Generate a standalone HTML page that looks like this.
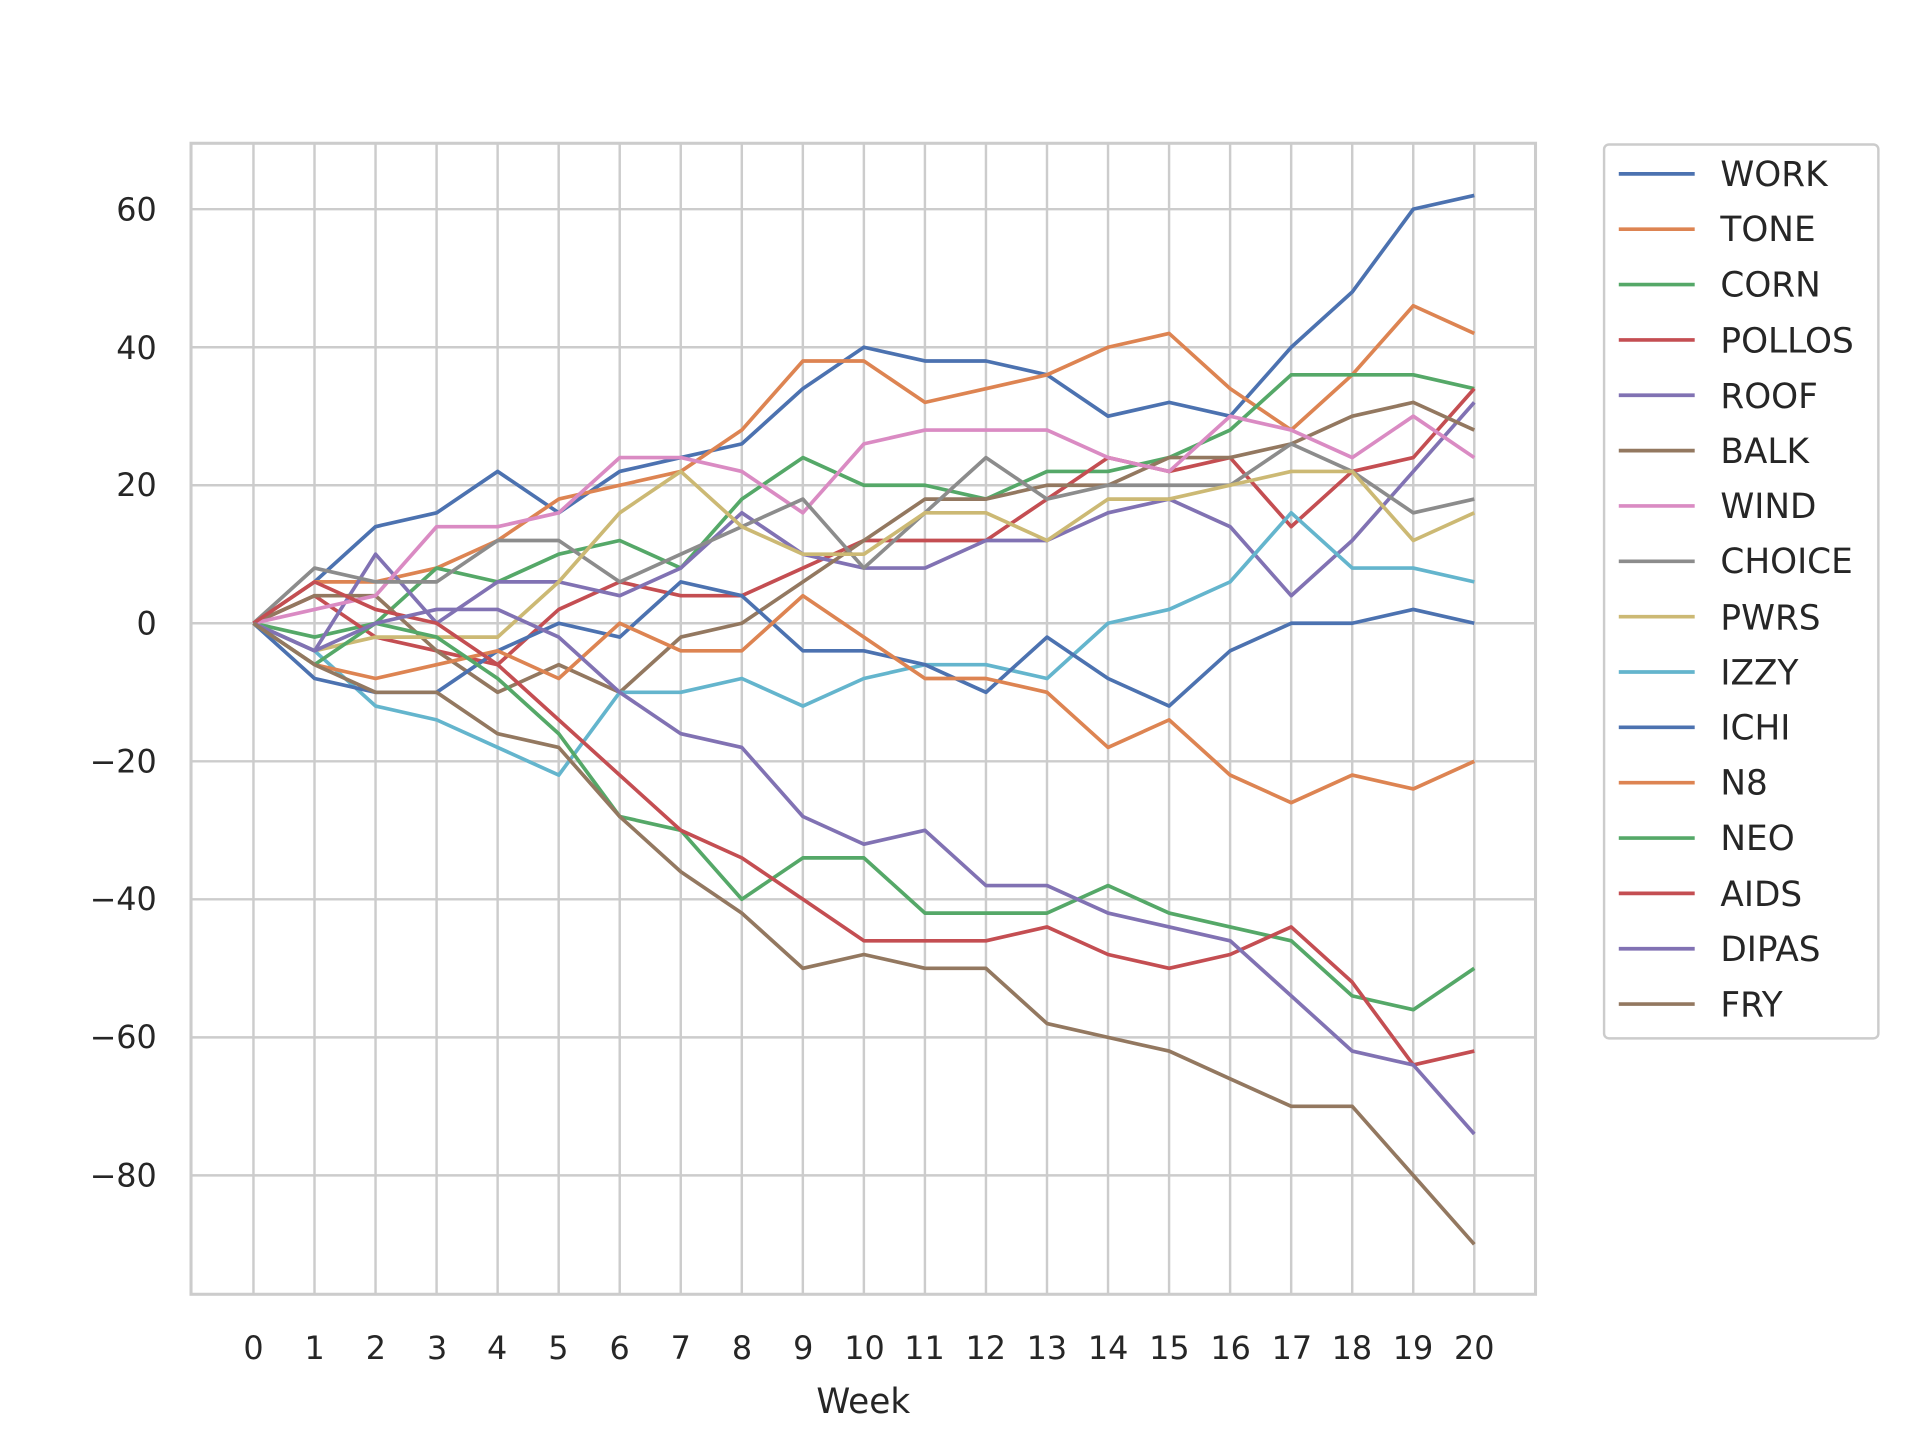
<!DOCTYPE html>
<html><head><meta charset="utf-8"><style>
html,body{margin:0;padding:0;background:#fff;}
svg{display:block}
text{font-family:"DejaVu Sans","Liberation Sans",sans-serif;fill:#262626}
</style></head><body>
<svg id="s" width="1920" height="1440" viewBox="0 0 1568 1176" xmlns="http://www.w3.org/2000/svg">
<rect x="156" y="117" width="1098" height="940" fill="#fff" stroke="#cccccc" stroke-width="2.5"/>
<g id="grid" stroke="#cccccc" stroke-width="2"></g>
<g id="lines" fill="none" stroke-width="3" stroke-linejoin="round"></g>
<g font-size="26" text-anchor="end">
<text x="128" y="180">60</text>
<text x="128" y="293">40</text>
<text x="128" y="405">20</text>
<text x="128" y="518">0</text>
<text x="128" y="631">−20</text>
<text x="128" y="743">−40</text>
<text x="128" y="856">−60</text>
<text x="128" y="969">−80</text>
</g>
<g font-size="26" text-anchor="middle">
<text x="207" y="1110">0</text><text x="257" y="1110">1</text><text x="307" y="1110">2</text><text x="357" y="1110">3</text><text x="406" y="1110">4</text><text x="456" y="1110">5</text><text x="506" y="1110">6</text><text x="556" y="1110">7</text><text x="606" y="1110">8</text><text x="656" y="1110">9</text><text x="706" y="1110">10</text><text x="755" y="1110">11</text><text x="805" y="1110">12</text><text x="855" y="1110">13</text><text x="905" y="1110">14</text><text x="955" y="1110">15</text><text x="1005" y="1110">16</text><text x="1055" y="1110">17</text><text x="1104" y="1110">18</text><text x="1154" y="1110">19</text><text x="1204" y="1110">20</text>
<text x="705" y="1154" font-size="28">Week</text>
</g>
<rect x="1310" y="118" width="224" height="730" rx="4" fill="#fff" stroke="#cccccc" stroke-width="2"/>
<g id="leg" font-size="28">
<text x="1405" y="152">WORK</text><text x="1405" y="197">TONE</text><text x="1405" y="242">CORN</text><text x="1405" y="288">POLLOS</text><text x="1405" y="333">ROOF</text><text x="1405" y="378">BALK</text><text x="1405" y="423">WIND</text><text x="1405" y="468">CHOICE</text><text x="1405" y="514">PWRS</text><text x="1405" y="559">IZZY</text><text x="1405" y="604">ICHI</text><text x="1405" y="649">N8</text><text x="1405" y="694">NEO</text><text x="1405" y="740">AIDS</text><text x="1405" y="785">DIPAS</text><text x="1405" y="830">FRY</text>
</g>
<g id="legl" stroke-width="3"></g>
</svg>
<script>
var C=["#4c72b0","#dd8452","#55a868","#c44e52","#8172b3","#937860","#da8bc3","#8c8c8c","#ccb974","#64b5cd","#4c72b0","#dd8452","#55a868","#c44e52","#8172b3","#937860"];
var D=[
[0,6,14,16,22,16,22,24,26,34,40,38,38,36,30,32,30,40,48,60,62],
[0,6,6,8,12,18,20,22,28,38,38,32,34,36,40,42,34,28,36,46,42],
[0,-2,0,8,6,10,12,8,18,24,20,20,18,22,22,24,28,36,36,36,34],
[0,4,-2,-4,-6,2,6,4,4,8,12,12,12,18,24,22,24,14,22,24,34],
[0,-4,10,0,6,6,4,8,16,10,8,8,12,12,16,18,14,4,12,22,32],
[0,4,4,-4,-10,-6,-10,-2,0,6,12,18,18,20,20,24,24,26,30,32,28],
[0,2,4,14,14,16,24,24,22,16,26,28,28,28,24,22,30,28,24,30,24],
[0,8,6,6,12,12,6,10,14,18,8,16,24,18,20,20,20,26,22,16,18],
[0,-4,-2,-2,-2,6,16,22,14,10,10,16,16,12,18,18,20,22,22,12,16],
[0,-4,-12,-14,-18,-22,-10,-10,-8,-12,-8,-6,-6,-8,0,2,6,16,8,8,6],
[0,-8,-10,-10,-4,0,-2,6,4,-4,-4,-6,-10,-2,-8,-12,-4,0,0,2,0],
[0,-6,-8,-6,-4,-8,0,-4,-4,4,-2,-8,-8,-10,-18,-14,-22,-26,-22,-24,-20],
[0,-6,0,-2,-8,-16,-28,-30,-40,-34,-34,-42,-42,-42,-38,-42,-44,-46,-54,-56,-50],
[0,6,2,0,-6,-14,-22,-30,-34,-40,-46,-46,-46,-44,-48,-50,-48,-44,-52,-64,-62],
[0,-4,0,2,2,-2,-10,-16,-18,-28,-32,-30,-38,-38,-42,-44,-46,-54,-62,-64,-74],
[0,-6,-10,-10,-16,-18,-28,-36,-42,-50,-48,-50,-50,-58,-60,-62,-66,-70,-70,-80,-90]];
var NS="http://www.w3.org/2000/svg";
function X(i){return 207+i*49.85}
function Y(v){return 509-v*5.636}
var g=document.getElementById("grid");
function ln(p,a,b,c,d,col){var e=document.createElementNS(NS,"line");e.setAttribute("x1",a);e.setAttribute("y1",b);e.setAttribute("x2",c);e.setAttribute("y2",d);if(col)e.setAttribute("stroke",col);p.appendChild(e);}
for(var i=0;i<=20;i++)ln(g,X(i),117,X(i),1057);
for(var v=-80;v<=60;v+=20)ln(g,156,Y(v),1254,Y(v));
var L=document.getElementById("lines"),LL=document.getElementById("legl");
D.forEach(function(d,k){var p=document.createElementNS(NS,"polyline");p.setAttribute("points",d.map(function(v,i){return X(i).toFixed(1)+","+Y(v).toFixed(1)}).join(" "));p.setAttribute("stroke",C[k]);L.appendChild(p);
var y=142+k*45.2;ln(LL,1322,y,1384,y,C[k]);});
</script>
</body></html>
